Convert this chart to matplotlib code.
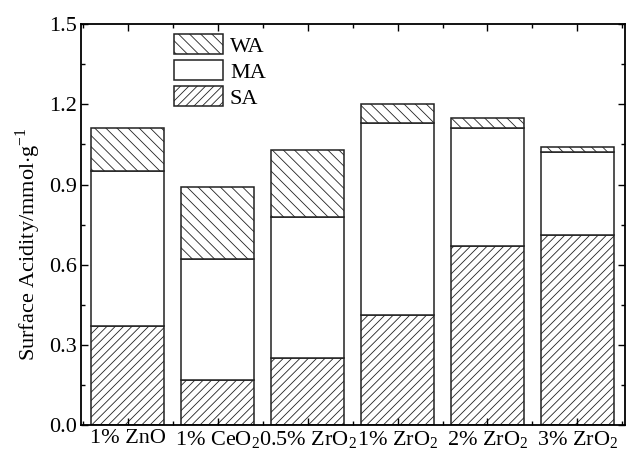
import numpy as np
import matplotlib
matplotlib.use("Agg")
import matplotlib.pyplot as plt

plt.rcParams['font.family'] = ['Liberation Serif', 'DejaVu Serif']
plt.rcParams['mathtext.fontset'] = 'custom'
plt.rcParams['mathtext.rm'] = 'Liberation Serif'
plt.rcParams['hatch.linewidth'] = 0.6

# catalysts and acid amounts (mmol/g)
catalysts = ['1% ZnO', r'1% CeO$_\mathregular{2}$', r'0.5% ZrO$_\mathregular{2}$',
             r'1% ZrO$_\mathregular{2}$', r'2% ZrO$_\mathregular{2}$', r'3% ZrO$_\mathregular{2}$']
sa = [0.37, 0.17, 0.25, 0.41, 0.67, 0.71]
ma = [0.58, 0.45, 0.53, 0.72, 0.44, 0.31]
wa = [0.16, 0.27, 0.25, 0.07, 0.04, 0.02]
yticks = [0.0, 0.3, 0.6, 0.9, 1.2, 1.5]

fig = plt.figure(figsize=(6.27, 4.57), dpi=100)
ax = fig.add_axes([0.129, 0.070, 0.868, 0.877])

x = np.arange(len(catalysts))
w = 0.81
ec = '#222222'
b_sa = ax.bar(x, sa, w, color='white', edgecolor=ec, hatch='////', linewidth=1.1, label='SA')
b_ma = ax.bar(x, ma, w, bottom=sa, color='white', edgecolor=ec, linewidth=1.1, label='MA')
bot = np.array(sa) + np.array(ma)
b_wa = ax.bar(x, wa, w, bottom=bot, color='white', edgecolor=ec, hatch='\\\\\\', linewidth=1.1, label='WA')

ax.set_xlim(-0.52, 5.53)
ax.set_ylim(0, 1.5)
ax.set_xticks(x)
ax.set_xticklabels(catalysts, fontsize=16)
ax.set_xticks(np.arange(-0.5, 6, 1), minor=True)
ax.set_yticks(yticks)
ax.set_yticklabels(['%.1f' % v for v in yticks], fontsize=16)
ax.set_yticks(np.arange(0.15, 1.5, 0.3), minor=True)
ax.tick_params(which='both', direction='in', top=True, right=True, width=1)
ax.tick_params(which='major', length=5, pad=3)
ax.tick_params(which='minor', length=3)
for s in ax.spines.values():
    s.set_linewidth(1.3)

ax.set_ylabel(r'Surface Acidity/mmol$\cdot$g$^{\mathregular{-1}}$', fontsize=16)
ax.yaxis.set_label_coords(-0.07, 0.45)

ax.legend([b_wa, b_ma, b_sa], ['WA', 'MA', 'SA'], loc='upper left',
          bbox_to_anchor=(0.135, 1.025), frameon=False, fontsize=16,
          handlelength=2.2, handleheight=1.0, handletextpad=0.3, labelspacing=0.15)

fig.savefig('out.png', dpi=100)
